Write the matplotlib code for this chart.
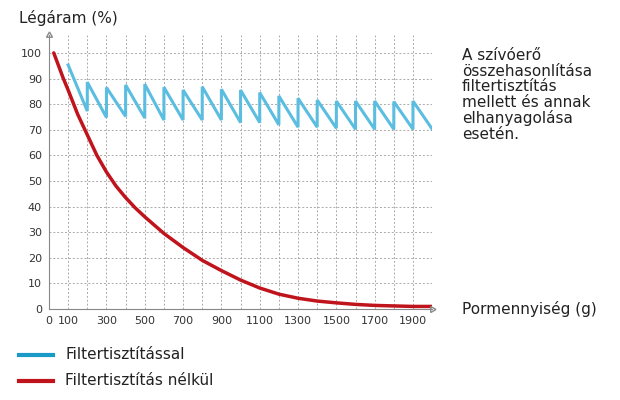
import matplotlib
matplotlib.use("Agg")
import matplotlib.pyplot as plt

peak_x = [100,200,300,400,500,600,700,800,900,1000,1100,1200,1300,1400,1500,1600,1700,1800,1900]
peak_y = [95.3,88.6,86.5,87.5,87.8,86.6,85.5,86.8,85.8,85.5,84.5,83.2,82.3,81.6,81.2,81.2,81.2,81.0,81.2]
trough_y = [77.3,74.8,75.2,74.6,73.8,73.8,73.8,73.8,72.8,72.8,71.9,71.0,71.0,70.6,70.2,70.2,70.2,70.2,70.3]
red_x = [25,50,75,100,150,200,250,300,350,400,450,500,600,700,800,900,1000,1100,1200,1300,1400,1500,1600,1700,1800,1900,2000]
red_y = [100,95,90,85.5,76,68,60,53.5,48,43.5,39.5,36,29.5,24,19,15,11.3,8.2,5.8,4.2,3.1,2.4,1.8,1.4,1.2,1.0,1.0]
xticks = [0,100,300,500,700,900,1100,1300,1500,1700,1900]

bx, by = [], []
for i, x in enumerate(peak_x):
    nxt = peak_x[i+1] if i+1 < len(peak_x) else 2000
    if i == 0:
        bx.append(x); by.append(peak_y[i])
    bx.append(nxt); by.append(trough_y[i])
    if i+1 < len(peak_x):
        bx.append(nxt); by.append(peak_y[i+1])

fig = plt.figure(figsize=(6.2,4), dpi=100)
ax = fig.add_axes([0.079,0.2275,0.618,0.685])
ax.set_xlim(0,2000); ax.set_ylim(0,107)
for x in range(100,2001,100):
    ax.axvline(x, color="#aaaaaa", ls=(0,(2,2)), lw=0.7, zorder=0)
for y in range(10,101,10):
    ax.axhline(y, color="#aaaaaa", ls=(0,(2,2)), lw=0.7, zorder=0)
ax.plot(bx, by, color="#5bbde0", lw=2.2, solid_joinstyle="miter")
ax.plot(red_x, red_y, color="#c0141c", lw=2.5, solid_capstyle="round")
for s in ["top","right"]: ax.spines[s].set_visible(False)
for s in ["left","bottom"]: ax.spines[s].set_color("#888888")
ax.plot([0],[107], marker=(3,0,0), color="#888888", ms=5, clip_on=False, mfc="none")
ax.plot([2000],[0], marker=(3,0,-90), color="#888888", ms=5, clip_on=False, mfc="none")
ax.set_xticks(xticks); ax.set_yticks(range(0,101,10))
ax.tick_params(length=0, labelsize=8, colors="#333333", pad=5)
fig.text(0.03,0.955,"Légáram (%)", fontsize=11, color="#222222", va="center")
fig.text(0.745,0.227,"Pormennyiség (g)", fontsize=11, color="#222222", va="center")
fig.text(0.745,0.88,"A szívóerő\nösszehasonlítása\nfiltertisztítás\nmellett és annak\nelhanyagolása\nesetén.", fontsize=11, color="#222222", va="top", linespacing=1.05)
fig.lines.append(plt.Line2D([0.03,0.085],[0.113,0.113], transform=fig.transFigure, color="#1a9bc7", lw=3))
fig.lines.append(plt.Line2D([0.03,0.085],[0.048,0.048], transform=fig.transFigure, color="#c0141c", lw=3))
fig.text(0.105,0.113,"Filtertisztítással", fontsize=11, color="#222222", va="center")
fig.text(0.105,0.048,"Filtertisztítás nélkül", fontsize=11, color="#222222", va="center")
fig.savefig("out.png")
